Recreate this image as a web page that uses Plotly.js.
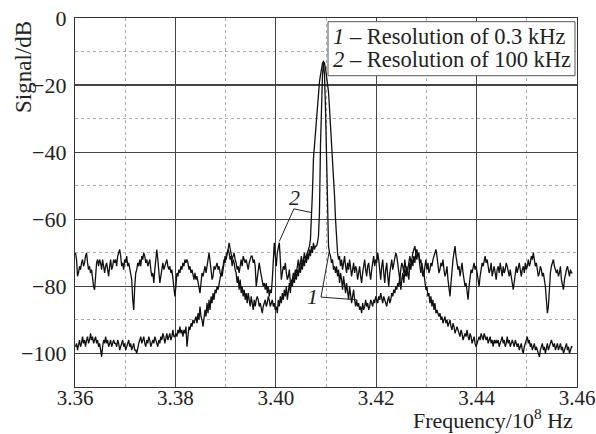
<!DOCTYPE html>
<html>
<head>
<meta charset="utf-8">
<script src="https://cdn.plot.ly/plotly-3.0.1.min.js"></script>
<style>html,body{margin:0;padding:0;background:#fff;}#chart{width:596px;height:434px;}</style>
</head>
<body>
<div id="chart"></div>
<script>
// Frequency grid of the analyser trace (units of 10^8 Hz)
const FREQ_START = 3.3601;
const FREQ_STEP = 0.0002;

// Curve 1: resolution 0.3 kHz (dB)
const res03 = [
-98,-97,-99,-97,-96,-98,-97,-95,-97,-96,-98,-96,-95,-97,-96,-94,-96,-95,-97,-96,
-95,-97,-96,-98,-97,-99,-101,-98,-96,-97,-95,-97,-96,-98,-97,-96,-98,-97,-96,-97,
-97,-98,-96,-97,-99,-98,-97,-96,-98,-97,-99,-98,-97,-96,-98,-97,-99,-98,-97,-99,
-99,-100,-98,-97,-96,-95,-97,-96,-95,-97,-98,-96,-97,-95,-96,-98,-97,-96,-97,-95,
-96,-97,-98,-96,-97,-95,-96,-94,-95,-97,-95,-94,-96,-95,-94,-96,-95,-93,-95,-95,
-94,-95,-93,-94,-92,-94,-93,-95,-93,-94,-92,-98,-94,-92,-93,-91,-92,-90,-91,-90,
-89,-91,-88,-90,-86,-89,-90,-92,-89,-87,-89,-85,-88,-84,-87,-83,-85,-82,-84,-81,
-82,-80,-81,-79,-78,-76,-77,-75,-73,-71,-72,-70,-69,-70,-72,-71,-74,-72,-73,-75,
-76,-79,-77,-81,-78,-82,-80,-83,-81,-84,-82,-85,-82,-84,-86,-83,-85,-87,-84,-86,
-84,-83,-84,-86,-85,-87,-88,-86,-85,-84,-86,-85,-83,-84,-86,-85,-84,-86,-85,-87,
-86,-88,-84,-86,-83,-85,-82,-84,-81,-83,-80,-84,-81,-79,-82,-78,-80,-77,-79,-76,
-78,-75,-77,-74,-76,-73,-75,-72,-74,-71,-73,-70,-72,-69,-71,-68,-70,-67,-69,-68,
-68,-67,-65,-58,-38,-26,-17,-13,-17,-27,-40,-60,-68,-70,-71,-73,-72,-75,-74,-76,
-74,-77,-75,-79,-76,-78,-81,-77,-80,-82,-79,-81,-84,-80,-82,-85,-83,-81,-84,-86,
-84,-86,-85,-87,-86,-88,-85,-87,-86,-84,-86,-85,-87,-86,-84,-85,-86,-84,-85,-83,
-84,-85,-83,-84,-82,-84,-85,-83,-84,-85,-86,-84,-83,-85,-84,-82,-83,-81,-82,-80,
-81,-79,-80,-77,-81,-78,-76,-79,-75,-77,-74,-76,-78,-73,-75,-72,-74,-71,-73,-70,
-69,-71,-70,-73,-72,-75,-77,-76,-79,-81,-80,-83,-82,-85,-83,-86,-84,-87,-85,-88,
-87,-88,-89,-88,-90,-89,-91,-90,-89,-91,-90,-92,-91,-90,-92,-93,-91,-92,-94,-93,
-92,-93,-94,-95,-93,-94,-96,-95,-94,-95,-93,-95,-96,-94,-95,-97,-96,-95,-97,-98,
-97,-96,-95,-96,-94,-95,-96,-94,-95,-96,-95,-97,-96,-95,-97,-96,-98,-96,-97,-96,
-97,-96,-98,-97,-96,-95,-97,-96,-98,-97,-95,-97,-96,-98,-97,-96,-97,-98,-96,-97,
-98,-97,-99,-98,-97,-99,-100,-98,-97,-96,-95,-97,-96,-98,-97,-99,-98,-97,-99,-98,
-99,-100,-101,-99,-98,-97,-99,-98,-100,-98,-97,-99,-98,-97,-96,-97,-98,-97,-99,-98,
-97,-99,-98,-97,-99,-98,-100,-99,-98,-97,-99,-98,-100,-99,-98,-98
];

// Curve 2: resolution 100 kHz (dB)
const res100 = [
-70,-72,-77,-76,-74,-75,-73,-72,-74,-73,-71,-70,-73,-75,-74,-76,-75,-78,-80,-81,
-77,-73,-72,-74,-72,-73,-75,-72,-74,-76,-74,-73,-75,-77,-74,-72,-75,-74,-72,-73,
-72,-74,-71,-70,-69,-71,-74,-73,-75,-72,-73,-71,-74,-73,-75,-76,-78,-84,-87,-80,
-76,-75,-73,-74,-72,-74,-71,-72,-70,-71,-73,-72,-74,-73,-72,-75,-77,-76,-79,-75,
-71,-69,-72,-76,-79,-77,-74,-73,-75,-74,-73,-72,-74,-75,-74,-76,-75,-78,-80,-83,
-80,-76,-77,-75,-76,-74,-75,-73,-74,-72,-73,-72,-73,-75,-74,-76,-75,-77,-78,-76,
-78,-77,-79,-81,-82,-79,-76,-77,-75,-74,-76,-73,-72,-70,-72,-75,-78,-77,-74,-75,
-74,-73,-75,-74,-76,-77,-75,-74,-72,-73,-71,-70,-69,-67,-69,-70,-72,-71,-70,-72,
-73,-75,-74,-76,-73,-72,-74,-71,-72,-73,-72,-74,-75,-73,-72,-71,-71,-73,-72,-74,
-80,-77,-74,-73,-75,-77,-78,-80,-79,-81,-79,-82,-80,-83,-81,-82,-78,-70,-67,-71,
-74,-70,-68,-67,-72,-78,-76,-74,-75,-73,-76,-78,-77,-75,-79,-80,-78,-76,-77,-75,
-76,-74,-72,-75,-73,-71,-74,-72,-70,-72,-71,-70,-69,-68,-66,-60,-52,-42,-38,-35,
-32,-27,-22,-19,-17,-15,-13.5,-13,-13.5,-15,-17,-19,-22,-27,-32,-36,-40,-45,-53,-60,
-66,-70,-72,-71,-74,-72,-75,-73,-71,-74,-76,-73,-75,-72,-74,-77,-75,-73,-76,-74,
-75,-78,-76,-74,-77,-79,-76,-74,-72,-75,-77,-74,-73,-76,-78,-75,-73,-71,-74,-72,
-73,-70,-72,-75,-78,-74,-72,-76,-79,-75,-73,-77,-80,-76,-74,-72,-75,-73,-71,-70,
-71,-74,-76,-78,-75,-73,-74,-76,-72,-74,-77,-75,-73,-71,-73,-72,-70,-69,-68,-70,
-72,-70,-71,-74,-76,-73,-75,-77,-74,-72,-75,-73,-76,-75,-73,-74,-72,-71,-70,-69,
-71,-74,-76,-75,-73,-74,-72,-75,-77,-76,-74,-78,-81,-83,-79,-75,-72,-70,-68,-71,
-73,-75,-74,-77,-75,-73,-76,-78,-80,-79,-82,-84,-80,-77,-75,-76,-74,-73,-75,-74,
-76,-78,-80,-77,-75,-73,-74,-72,-71,-73,-72,-74,-76,-75,-73,-77,-75,-74,-76,-78,
-75,-74,-76,-73,-75,-77,-74,-76,-75,-73,-74,-76,-77,-75,-78,-79,-81,-78,-75,-74,
-76,-74,-73,-75,-77,-75,-74,-76,-73,-75,-74,-72,-74,-73,-71,-72,-70,-72,-74,-73,
-75,-77,-76,-74,-75,-77,-76,-78,-80,-84,-88,-86,-80,-76,-74,-73,-72,-74,-75,-76,
-75,-77,-76,-74,-78,-80,-81,-78,-76,-75,-74,-76,-77,-75,-76,-76
];

// Legend lines
const legendLines = ["<i>1</i> – Resolution of 0.3 kHz", "<i>2</i> – Resolution of 100 kHz"];

// Curve labels: label text, label position, pointer start and pointer ends (data units)
const curveLabels = [
  {text: "2", at: [3.40382, -53.6], from: [3.4036, -56.9], to: [[3.4007, -66.6], [3.4071, -58.0]]},
  {text: "1", at: [3.40731, -82.9], from: [3.4090, -83.2], to: [[3.4106, -70.0], [3.4161, -84.0]]}
];

// Axis settings
const xTicks = [3.36, 3.38, 3.40, 3.42, 3.44, 3.46];
const xRange = [3.36, 3.46];
const yRange = [-110, 0];

const lineStyle = {color: "#111", width: 1.3};
const traces = [
  {type: "scatter", mode: "lines", x0: FREQ_START, dx: FREQ_STEP, y: res03, line: lineStyle, hoverinfo: "skip"},
  {type: "scatter", mode: "lines", x0: FREQ_START, dx: FREQ_STEP, y: res100, line: lineStyle, hoverinfo: "skip"}
];

const serif = "Liberation Serif, Times New Roman, serif";
const txt = "#222";
const shapes = [];
const annotations = [];
curveLabels.forEach(c => {
  annotations.push({xref: "x", yref: "y", x: c.at[0], y: c.at[1], text: "<i>" + c.text + "</i>",
    showarrow: false, font: {family: serif, size: 22, color: txt}});
  c.to.forEach(p => shapes.push({type: "line", xref: "x", yref: "y", x0: c.from[0], y0: c.from[1],
    x1: p[0], y1: p[1], line: {color: "#222", width: 1}}));
});
// legend box
shapes.push({type: "rect", xref: "paper", yref: "paper", x0: 0.504, x1: 0.996, y0: 0.8436, y1: 0.990,
  fillcolor: "#fff", line: {color: "#555", width: 1}, layer: "above"});
const legendY = [0.9493, 0.8883];
legendLines.forEach((t, i) => annotations.push({xref: "paper", yref: "paper", x: 0.509, y: legendY[i],
  xanchor: "left", yanchor: "middle", align: "left", text: t, showarrow: false,
  font: {family: serif, size: 22.5, color: txt}}));
annotations.push({xref: "paper", yref: "paper", x: -0.103, y: 0.868, xanchor: "center", yanchor: "middle",
  text: "Signal/dB", textangle: -90, showarrow: false, font: {family: serif, size: 23, color: txt}});
annotations.push({xref: "paper", yref: "paper", x: 0.833, y: -0.088, xanchor: "center", yanchor: "middle",
  text: "Frequency/10<sup>8</sup> Hz", showarrow: false, font: {family: serif, size: 22, color: txt}});

const layout = {
  width: 596, height: 434,
  margin: {l: 75, r: 19, t: 18, b: 47},
  paper_bgcolor: "#fff", plot_bgcolor: "#fff",
  showlegend: false,
  font: {family: serif, size: 22, color: txt},
  xaxis: {
    range: xRange, tickvals: xTicks, ticktext: xTicks.map(v => v.toFixed(2)),
    showgrid: true, gridcolor: "#444", gridwidth: 1.2, zeroline: false,
    showline: true, linecolor: "#333", linewidth: 1.2, mirror: true, ticks: "", ticklabelstandoff: -8,
    ticklabeloverflow: "allow",
    tickfont: {family: serif, size: 21, color: txt},
    minor: {dtick: 0.01, tick0: 3.36, showgrid: true, gridcolor: "#aaa", griddash: "dot", gridwidth: 1}
  },
  yaxis: {
    range: yRange, dtick: 20, tick0: 0,
    showgrid: true, gridcolor: "#444", gridwidth: 1.2, zeroline: false,
    showline: true, linecolor: "#333", linewidth: 1.2, mirror: true, ticks: "", ticklabelstandoff: 3,
    tickfont: {family: serif, size: 22, color: txt},
    minor: {dtick: 10, tick0: 0, showgrid: true, gridcolor: "#aaa", griddash: "dot", gridwidth: 1}
  },
  shapes: shapes,
  annotations: annotations
};

Plotly.newPlot("chart", traces, layout, {staticPlot: true, displayModeBar: false});
</script>
</body>
</html>
